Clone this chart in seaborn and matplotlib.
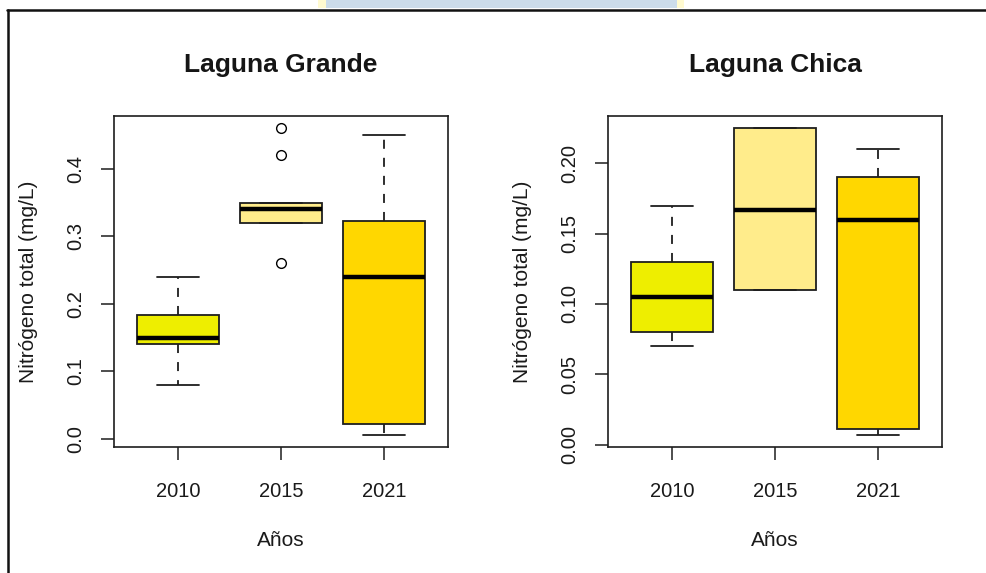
import numpy as np
import pandas as pd
import matplotlib
matplotlib.use("Agg")
import matplotlib.pyplot as plt
import seaborn as sns
from matplotlib.patches import Rectangle
from matplotlib.lines import Line2D

# Total nitrogen (mg/L) samples per sampling year
years = ["2010", "2015", "2021"]
grande_2010 = [0.08, 0.14, 0.15, 0.183, 0.24]
grande_2015 = [0.26, 0.32, 0.32, 0.33, 0.34, 0.35, 0.35, 0.42, 0.46]
grande_2021 = [0.006, 0.022, 0.24, 0.323, 0.45]
chica_2010 = [0.07, 0.08, 0.105, 0.13, 0.17]
chica_2015 = [0.11, 0.11, 0.167, 0.225, 0.225]
chica_2021 = [0.007, 0.011, 0.16, 0.19, 0.21]

box_colors = ["#EEEE00", "#FFEC8B", "#FFD700"]  # yellow2, lightgoldenrod1, gold
grande_ticks = [0.0, 0.1, 0.2, 0.3, 0.4]
chica_ticks = [0.00, 0.05, 0.10, 0.15, 0.20]


def long_frame(groups):
    rows = []
    for yr, vals in zip(years, groups):
        rows += [(yr, v) for v in vals]
    return pd.DataFrame(rows, columns=["year", "value"])


lakes = [
    ("Laguna Grande", long_frame([grande_2010, grande_2015, grande_2021]), grande_ticks, "{:.1f}"),
    ("Laguna Chica", long_frame([chica_2010, chica_2015, chica_2021]), chica_ticks, "{:.2f}"),
]

sns.set_theme(style="white")
plt.rcParams["font.family"] = ["Liberation Sans", "DejaVu Sans"]

W, H = 987, 573
fig = plt.figure(figsize=(W / 100, H / 100), dpi=100)
fig.patch.set_facecolor("white")

ax_lefts = [114, 608]
ax_w, ax_top, ax_bot = 334, 116, 447

for (title, df, ticks, fmt), left in zip(lakes, ax_lefts):
    ax = fig.add_axes([left / W, 1 - ax_bot / H, ax_w / W, (ax_bot - ax_top) / H])
    sns.boxplot(
        data=df, x="year", y="value", hue="year", order=years, hue_order=years,
        palette=box_colors, saturation=1, width=0.8, legend=False,
        linecolor="#1e1e1e", linewidth=1.3,
        whiskerprops=dict(linestyle=(0, (5, 5))),
        medianprops=dict(color="black", linewidth=3.2),
        flierprops=dict(marker="o", markersize=7, markerfacecolor="none",
                        markeredgecolor="black", markeredgewidth=1.0),
        ax=ax,
    )
    # R-style 4% padding around the data range
    lo, hi = df["value"].min(), df["value"].max()
    pad = 0.04 * (hi - lo)
    ax.set_ylim(lo - pad, hi + pad)
    ax.set_xlim(-0.62, 2.62)

    ax.set_yticks(ticks)
    ax.set_yticklabels([fmt.format(t) for t in ticks], rotation=90, va="center")
    ax.set_xticks(range(len(years)))
    ax.set_xticklabels(years)
    ax.tick_params(axis="both", which="major", length=9.5, width=1.1,
                   color="#1e1e1e", labelsize=14.5, labelcolor="#1a1a1a",
                   bottom=True, left=True)
    ax.tick_params(axis="x", pad=16)
    ax.tick_params(axis="y", pad=11)

    for sp in ax.spines.values():
        sp.set_visible(True)
        sp.set_color("#1e1e1e")
        sp.set_linewidth(1.2)

    ax.set_title(title, fontsize=19, fontweight="bold", color="#151515", y=1.133, pad=0)
    ax.set_xlabel("Años", fontsize=15, color="#1a1a1a")
    ax.set_ylabel("Nitrógeno total (mg/L)", fontsize=15, color="#1a1a1a")
    ax.xaxis.set_label_coords(0.5, -0.281)
    ax.yaxis.set_label_coords(-0.255, 0.5)
    ax.xaxis.label.set_va("center")
    ax.yaxis.label.set_va("center")

# page frame and header band at the top edge
def fx(px):
    return px / W


def fy(py):
    return 1 - py / H


fig.patches.append(Rectangle((fx(318), fy(8)), fx(8), 8 / H, transform=fig.transFigure,
                             facecolor="#FFFAD0", edgecolor="none", zorder=0))
fig.patches.append(Rectangle((fx(677), fy(8)), fx(7), 8 / H, transform=fig.transFigure,
                             facecolor="#FFFAD0", edgecolor="none", zorder=0))
fig.patches.append(Rectangle((fx(326), fy(8)), fx(351), 8 / H, transform=fig.transFigure,
                             facecolor="#CCDCEA", edgecolor="none", zorder=0))
fig.add_artist(Line2D([fx(7), 1], [fy(9.6), fy(9.6)], transform=fig.transFigure,
                      color="#111111", linewidth=1.8))
fig.add_artist(Line2D([fx(8.2), fx(8.2)], [fy(9.6), 0], transform=fig.transFigure,
                      color="#111111", linewidth=1.8))

fig.savefig("out.png", dpi=100, facecolor="white")
